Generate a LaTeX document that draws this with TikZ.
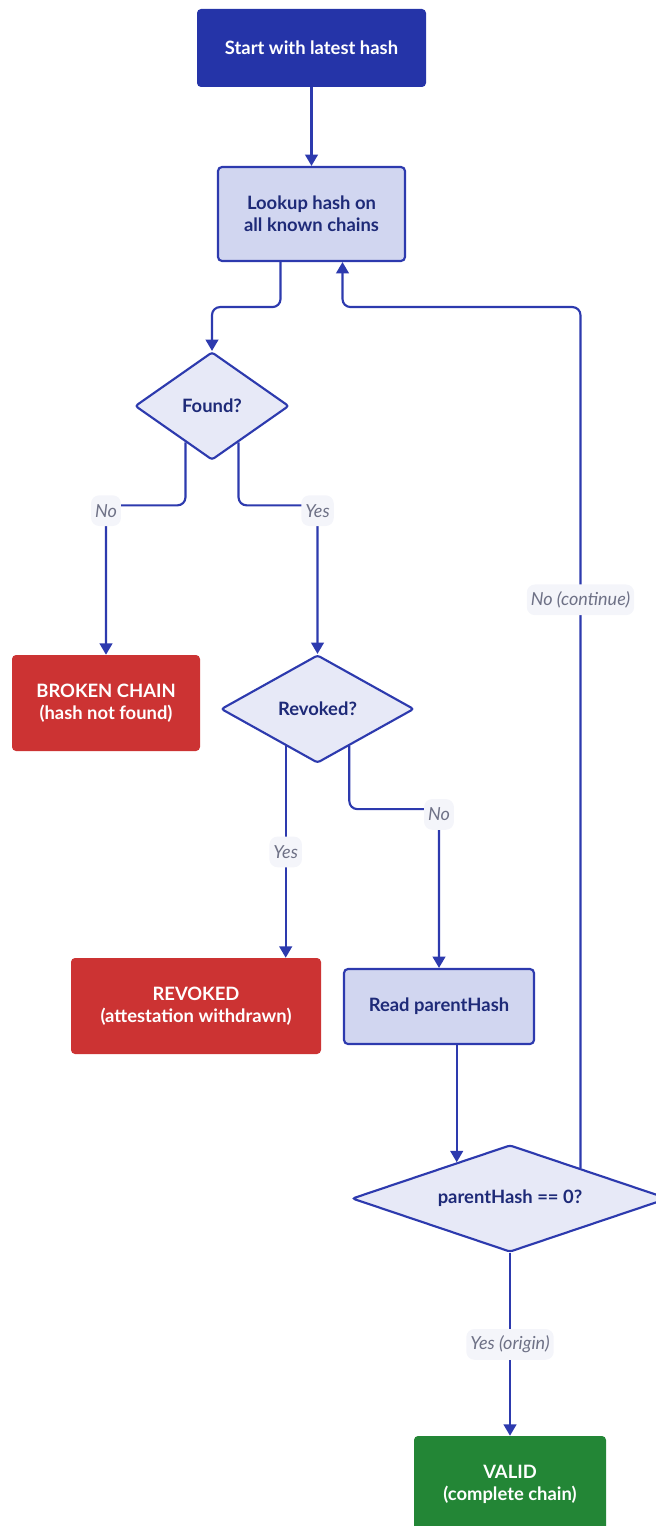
\documentclass[tikz,border=0pt]{standalone}
\usepackage{fontspec}
\setmainfont{Lato}
\usetikzlibrary{shapes.geometric,arrows.meta,calc}
\definecolor{edgeblue}{HTML}{2D3AAE}
\definecolor{startblue}{HTML}{2534A8}
\definecolor{procfill}{HTML}{D1D6F0}
\definecolor{decfill}{HTML}{E7E9F7}
\definecolor{navytext}{HTML}{1E2A78}
\definecolor{failred}{HTML}{CC3333}
\definecolor{okgreen}{HTML}{238636}
\definecolor{lbltext}{HTML}{6E7186}
\definecolor{lblfill}{HTML}{F4F5FA}
\begin{document}
\begin{tikzpicture}[x=0.75pt,y=-0.75pt,
    every node/.style={font=\bfseries\fontsize{13.8}{16.5}\selectfont, align=center, inner sep=0pt},
    startbox/.style={rectangle, rounded corners=3pt, fill=startblue, text=white},
    procbox/.style={rectangle, rounded corners=3pt, draw=edgeblue, line width=1.6pt, fill=procfill, text=navytext},
    decbox/.style={diamond, rounded corners=2pt, draw=edgeblue, line width=1.6pt, fill=decfill, text=navytext},
    failbox/.style={rectangle, rounded corners=3pt, fill=failred, text=white},
    okbox/.style={rectangle, rounded corners=3pt, fill=okgreen, text=white},
    lbl/.style={rectangle, rounded corners=6pt, fill=lblfill, text=lbltext, font=\itshape\fontsize{13.5}{16}\selectfont, minimum height=23pt, minimum width=22pt, inner xsep=3pt},
    flow/.style={draw=edgeblue, line width=1.6pt, rounded corners=6pt, -{Triangle[length=8.5pt,width=9.5pt]}}]
    \useasboundingbox (0,0) rectangle (656,1526);

    \node[startbox, minimum width=229*0.75pt, minimum height=78*0.75pt] (start) at (311.5,48) {Start with latest hash};
    \node[procbox, minimum width=187*0.75pt, minimum height=94*0.75pt] (lookup) at (311.5,214) {Lookup hash on\\all known chains};
    \node[decbox, aspect=1.43, minimum width=154*0.75pt, minimum height=108*0.75pt] (found) at (212,406) {Found?};
    \node[failbox, minimum width=188*0.75pt, minimum height=96*0.75pt] (broken) at (106,703) {BROKEN CHAIN\\(hash not found)};
    \node[decbox, aspect=1.79, minimum width=193*0.75pt, minimum height=108*0.75pt] (revq) at (317.5,709) {Revoked?};
    \node[failbox, minimum width=250*0.75pt, minimum height=96*0.75pt] (revoked) at (196,1006) {REVOKED\\(attestation withdrawn)};
    \node[procbox, minimum width=190*0.75pt, minimum height=75*0.75pt] (read) at (439,1006.5) {Read parentHash};
    \node[decbox, aspect=2.95, minimum width=316*0.75pt, minimum height=107*0.75pt] (check) at (510,1198.5) {parentHash == 0?};
    \node[okbox, minimum width=192*0.75pt, minimum height=96*0.75pt] (valid) at (510,1484) {VALID\\(complete chain)};

    \coordinate (fa) at ($(found.south)!0.34!(found.west)$);
    \coordinate (fb) at ($(found.south)!0.34!(found.east)$);
    \coordinate (ra) at ($(revq.south)!0.326!(revq.west)$);
    \coordinate (rb) at ($(revq.south)!0.326!(revq.east)$);
    \coordinate (ca) at ($(check.north)!0.335!(check.west)$);
    \coordinate (cb) at ($(check.north)!0.443!(check.east)$);
    \coordinate (la) at ($(lookup.south)+(-31,0)$);
    \coordinate (lb) at ($(lookup.south)+(31,0)$);

    \draw[flow] (start) -- (lookup);
    \draw[flow] (la) -- ++(0,45) -| (found.north);
    \draw[flow] (fa) -- ++(0,63) -| node[lbl, pos=0.5, yshift=-4pt] {No} (broken.north);
    \draw[flow] (fb) -- ++(0,63) -| node[lbl, pos=0.5, yshift=-4pt] {Yes} (revq.north);
    \draw[flow] (ra) -- node[lbl] {Yes} (ra |- revoked.north);
    \draw[flow] (rb) -- ++(0,63) -| node[lbl, pos=0.5, yshift=-4pt] {No} (read.north);
    \draw[flow] (ca |- read.south) -- (ca);
    \draw[flow] (cb) |- node[lbl, pos=0.33] {No (continue)} ($(lb)+(0,45)$) -- (lb);
    \draw[flow] (check.south) -- node[lbl] {Yes (origin)} (valid.north);
\end{tikzpicture}
\end{document}
